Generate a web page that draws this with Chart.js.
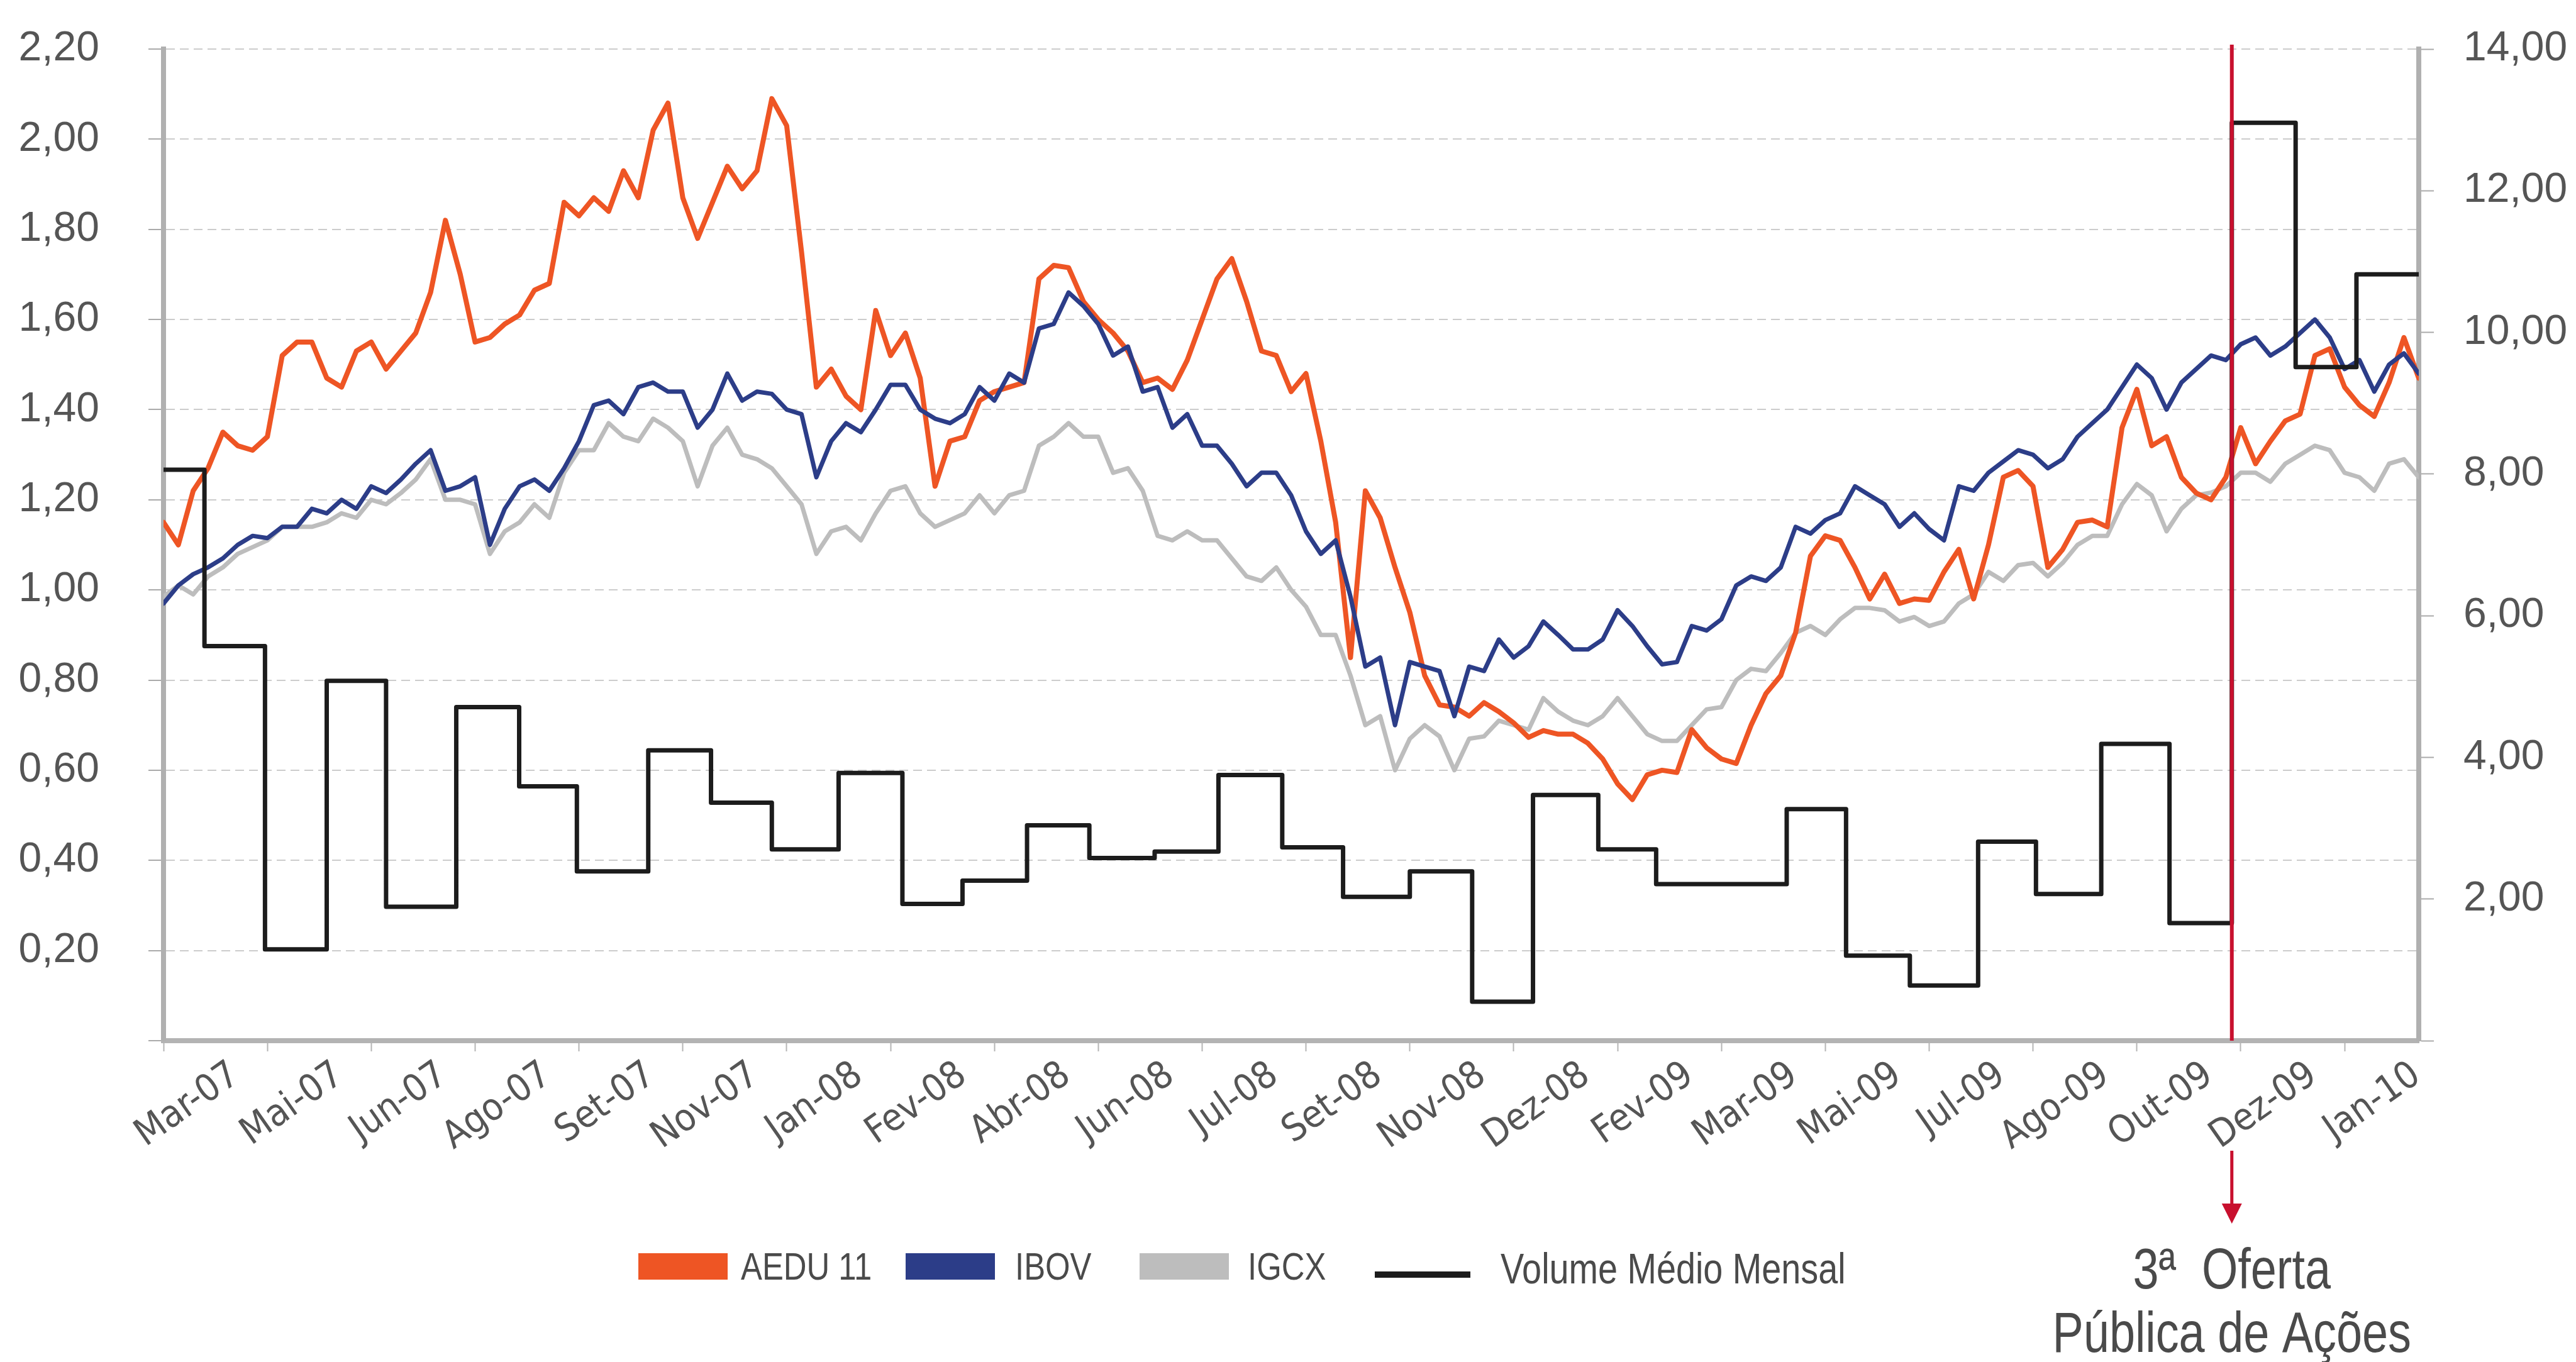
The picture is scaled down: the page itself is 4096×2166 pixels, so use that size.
<!DOCTYPE html>
<html>
<head>
<meta charset="utf-8">
<script src="https://cdn.jsdelivr.net/npm/chart.js@4.4.0/dist/chart.umd.min.js"></script>
<style>
  html, body { margin: 0; padding: 0; background: #fff; }
  canvas { display: block; }
</style>
</head>
<body>
<canvas id="grafico" width="4096" height="2166"></canvas>
<script>
// rótulos do eixo x, um a cada 7 semanas
const rotulosX = ['Mar-07', 'Mai-07', 'Jun-07', 'Ago-07', 'Set-07', 'Nov-07', 'Jan-08', 'Fev-08',
    'Abr-08', 'Jun-08', 'Jul-08', 'Set-08', 'Nov-08', 'Dez-08', 'Fev-09', 'Mar-09', 'Mai-09',
    'Jul-09', 'Ago-09', 'Out-09', 'Dez-09', 'Jan-10'];
const passoRotulo = 7;
const semanaFinal = 152;

// cotações semanais (eixo esquerdo)
const aedu = [
    1.15, 1.10, 1.22, 1.27, 1.35, 1.32, 1.31, 1.34, 1.52, 1.55,
    1.55, 1.47, 1.45, 1.53, 1.55, 1.49, 1.53, 1.57, 1.66, 1.82,
    1.70, 1.55, 1.56, 1.59, 1.61, 1.665, 1.68, 1.86, 1.83, 1.87,
    1.84, 1.93, 1.87, 2.02, 2.08, 1.87, 1.78, 1.86, 1.94, 1.89,
    1.93, 2.09, 2.03, 1.75, 1.45, 1.49, 1.43, 1.40, 1.62, 1.52,
    1.57, 1.47, 1.23, 1.33, 1.34, 1.42, 1.44, 1.45, 1.46, 1.69,
    1.72, 1.715, 1.64, 1.60, 1.57, 1.53, 1.46, 1.47, 1.445, 1.51,
    1.60, 1.69, 1.735, 1.64, 1.53, 1.52, 1.44, 1.48, 1.33, 1.15,
    0.85, 1.22, 1.16, 1.05, 0.95, 0.81, 0.745, 0.74, 0.72, 0.75,
    0.73, 0.705, 0.673, 0.688, 0.68, 0.68, 0.66, 0.625, 0.57, 0.535,
    0.59, 0.60, 0.595, 0.69, 0.65, 0.625, 0.615, 0.70, 0.77, 0.81,
    0.905, 1.075, 1.12, 1.11, 1.05, 0.98, 1.035, 0.97, 0.98, 0.977,
    1.04, 1.09, 0.98, 1.10, 1.25, 1.265, 1.23, 1.05, 1.09, 1.15,
    1.155, 1.14, 1.36, 1.445, 1.32, 1.34, 1.25, 1.215, 1.20, 1.25,
    1.36, 1.28, 1.33, 1.375, 1.39, 1.52, 1.535, 1.45, 1.41, 1.385,
    1.46, 1.56, 1.47
];
const ibov = [
    0.97, 1.01, 1.035, 1.05, 1.07, 1.10, 1.12, 1.115, 1.14, 1.14,
    1.18, 1.17, 1.20, 1.18, 1.23, 1.215, 1.245, 1.28, 1.31, 1.22,
    1.23, 1.25, 1.10, 1.18, 1.23, 1.245, 1.22, 1.27, 1.33, 1.41,
    1.42, 1.39, 1.45, 1.46, 1.44, 1.44, 1.36, 1.40, 1.48, 1.42,
    1.44, 1.435, 1.40, 1.39, 1.25, 1.33, 1.37, 1.35, 1.40, 1.455,
    1.455, 1.40, 1.38, 1.37, 1.39, 1.45, 1.42, 1.48, 1.46, 1.58,
    1.59, 1.66, 1.63, 1.59, 1.52, 1.54, 1.44, 1.45, 1.36, 1.39,
    1.32, 1.32, 1.28, 1.23, 1.26, 1.26, 1.21, 1.13, 1.08, 1.11,
    0.985, 0.83, 0.85, 0.70, 0.84, 0.83, 0.82, 0.72, 0.83, 0.82,
    0.89, 0.85, 0.875, 0.93, 0.90, 0.868, 0.868, 0.89, 0.955, 0.92,
    0.875, 0.835, 0.84, 0.92, 0.91, 0.935, 1.01, 1.03, 1.02, 1.05,
    1.14, 1.125, 1.155, 1.17, 1.23, 1.21, 1.19, 1.14, 1.17, 1.135,
    1.11, 1.23, 1.22, 1.26, 1.285, 1.31, 1.30, 1.27, 1.29, 1.34,
    1.37, 1.40, 1.45, 1.50, 1.47, 1.40, 1.46, 1.49, 1.52, 1.51,
    1.545, 1.56, 1.52, 1.54, 1.57, 1.60, 1.56, 1.49, 1.51, 1.44,
    1.50, 1.525, 1.48
];
const igcx = [
    0.985, 1.01, 0.99, 1.03, 1.05, 1.08, 1.095, 1.11, 1.14, 1.14,
    1.14, 1.15, 1.17, 1.16, 1.20, 1.19, 1.215, 1.245, 1.29, 1.20,
    1.20, 1.19, 1.08, 1.13, 1.15, 1.19, 1.16, 1.26, 1.31, 1.31,
    1.37, 1.34, 1.33, 1.38, 1.36, 1.33, 1.23, 1.32, 1.36, 1.30,
    1.29, 1.27, 1.23, 1.19, 1.08, 1.13, 1.14, 1.11, 1.17, 1.22,
    1.23, 1.17, 1.14, 1.155, 1.17, 1.21, 1.17, 1.21, 1.22, 1.32,
    1.34, 1.37, 1.34, 1.34, 1.26, 1.27, 1.22, 1.12, 1.11, 1.13,
    1.11, 1.11, 1.07, 1.03, 1.02, 1.05, 1.00, 0.963, 0.90, 0.90,
    0.81, 0.70, 0.72, 0.60, 0.67, 0.70, 0.675, 0.60, 0.67, 0.675,
    0.71, 0.70, 0.69, 0.76, 0.73, 0.71, 0.70, 0.72, 0.76, 0.72,
    0.68, 0.665, 0.665, 0.70, 0.735, 0.74, 0.80, 0.825, 0.82, 0.86,
    0.905, 0.92, 0.90, 0.935, 0.96, 0.96, 0.955, 0.93, 0.94, 0.92,
    0.93, 0.97, 0.99, 1.04, 1.02, 1.055, 1.06, 1.03, 1.06, 1.10,
    1.12, 1.12, 1.19, 1.235, 1.21, 1.13, 1.18, 1.21, 1.216, 1.23,
    1.26, 1.26, 1.24, 1.28, 1.30, 1.32, 1.31, 1.26, 1.25, 1.22,
    1.28, 1.29, 1.25
];

// volume médio mensal (eixo direito): semana em que começa cada mês e o valor
const volumeInicio = [0, 2.76, 6.84, 11.0, 15.0, 19.73, 23.97, 27.86, 32.67, 36.9, 41.0, 45.5,
    49.8, 53.85, 58.2, 62.4, 66.8, 71.1, 75.4, 79.5, 84.0, 88.2, 92.3, 96.7, 100.6, 109.4,
    113.4, 117.7, 122.3, 126.2, 130.6, 135.2, 139.4, 143.7, 147.8];
const volumeValor = [8.06, 5.57, 1.29, 5.08, 1.89, 4.71, 3.59, 2.39, 4.10, 3.36, 2.70, 3.78,
    1.93, 2.26, 3.04, 2.58, 2.67, 3.75, 2.73, 2.03, 2.39, 0.55, 3.47, 2.70, 2.21, 3.27,
    1.20, 0.78, 2.81, 2.07, 4.19, 1.66, 12.96, 9.51, 10.82];

// semana da 3ª oferta pública
const semanaOferta = 139.4;

const fonteNormal = "'Liberation Sans', Arial, sans-serif";
const fonteEstreita = "'Liberation Sans Narrow', 'Arial Narrow', 'DejaVu Sans Condensed', sans-serif";
const corTexto = '#555555';
const aperto = 0.82; // texto "narrow" feito a mão

const semanal = (valores) => valores.map((v, i) => ({ x: i, y: v }));
const volumePontos = volumeInicio.map((s, i) => ({ x: s, y: volumeValor[i] }));
volumePontos.push({ x: semanaFinal, y: volumeValor[volumeValor.length - 1] });

const formatoBR = (v) => (v === 0 ? '' : v.toFixed(2).replace('.', ','));

// eixo y com largura fixa e sem folga extra em cima/embaixo
const ajustaEixoY = (largura) => (escala) => {
    escala.width = largura;
    escala.paddingTop = 0;
    escala.paddingBottom = 0;
};

function textoEstreito(ctx, texto, x, y, tamanho) {
    ctx.save();
    ctx.translate(x, y);
    ctx.scale(aperto, 1);
    ctx.font = tamanho + 'px ' + fonteNormal;
    ctx.fillText(texto, 0, 0);
    ctx.restore();
}

// seta vermelha, texto da oferta e legenda
const sobreposicao = {
    id: 'sobreposicao',
    afterDraw(chart) {
        const { ctx, chartArea, scales } = chart;
        const x = scales.x.getPixelForValue(semanaOferta);
        ctx.save();
        ctx.strokeStyle = '#c8102e';
        ctx.fillStyle = '#c8102e';
        ctx.lineWidth = 6;
        ctx.beginPath();
        ctx.moveTo(x, chartArea.top - 7);
        ctx.lineTo(x, chartArea.bottom);
        ctx.stroke();

        ctx.lineWidth = 5;
        ctx.beginPath();
        ctx.moveTo(x, 1830);
        ctx.lineTo(x, 1918);
        ctx.stroke();
        ctx.beginPath();
        ctx.moveTo(x - 16, 1914);
        ctx.lineTo(x + 16, 1914);
        ctx.lineTo(x, 1946);
        ctx.closePath();
        ctx.fill();

        ctx.fillStyle = '#4a4a4a';
        ctx.textAlign = 'center';
        ctx.textBaseline = 'alphabetic';
        textoEstreito(ctx, '3ª  Oferta', x, 2049, 90);
        textoEstreito(ctx, 'Pública de Ações', x, 2150, 90);

        // legenda
        const porNome = {};
        chart.data.datasets.forEach(d => { porNome[d.label] = d; });
        const caixas = [
            { nome: 'AEDU 11', caixaX: 1015, textoX: 1178 },
            { nome: 'IBOV', caixaX: 1440, textoX: 1614 },
            { nome: 'IGCX', caixaX: 1812, textoX: 1984 }
        ];
        ctx.textAlign = 'left';
        caixas.forEach(c => {
            ctx.fillStyle = porNome[c.nome].borderColor;
            ctx.fillRect(c.caixaX, 1993, 142, 42);
            ctx.fillStyle = '#4a4a4a';
            textoEstreito(ctx, c.nome, c.textoX, 2035, 62);
        });
        const vol = porNome['Volume Médio Mensal'];
        ctx.strokeStyle = vol.borderColor;
        ctx.lineWidth = 10;
        ctx.beginPath();
        ctx.moveTo(2186, 2027);
        ctx.lineTo(2338, 2027);
        ctx.stroke();
        ctx.fillStyle = '#4a4a4a';
        textoEstreito(ctx, vol.label, 2386, 2041, 68);
        ctx.restore();
    }
};

new Chart(document.getElementById('grafico'), {
    type: 'line',
    data: {
        datasets: [
            {
                label: 'Volume Médio Mensal',
                data: volumePontos,
                yAxisID: 'y2',
                borderColor: '#1c1c1c',
                borderWidth: 7,
                stepped: true,
                order: 0
            },
            {
                label: 'IBOV',
                data: semanal(ibov),
                yAxisID: 'y',
                borderColor: '#2c3d88',
                borderWidth: 7,
                order: 1
            },
            {
                label: 'AEDU 11',
                data: semanal(aedu),
                yAxisID: 'y',
                borderColor: '#ee5524',
                borderWidth: 8,
                order: 2
            },
            {
                label: 'IGCX',
                data: semanal(igcx),
                yAxisID: 'y',
                borderColor: '#bdbdbd',
                borderWidth: 7,
                order: 3
            }
        ]
    },
    options: {
        responsive: false,
        animation: false,
        devicePixelRatio: 1,
        layout: { padding: { top: 78, left: 0, right: 0, bottom: 0 } },
        elements: {
            point: { radius: 0 },
            line: { tension: 0, borderJoinStyle: 'round', borderCapStyle: 'round' }
        },
        plugins: {
            legend: { display: false },
            tooltip: { enabled: false }
        },
        scales: {
            x: {
                type: 'linear',
                min: 0,
                max: semanaFinal,
                afterBuildTicks: (escala) => {
                    escala.ticks = rotulosX.map((_, k) => ({ value: k * passoRotulo }));
                },
                afterFit: (escala) => { escala.height = 511; },
                grid: { drawOnChartArea: false, drawTicks: true, tickLength: 17, tickColor: '#b5b5b5', tickWidth: 2 },
                border: { color: '#b3b3b3', width: 8 },
                ticks: {
                    autoSkip: false,
                    minRotation: 35,
                    maxRotation: 35,
                    labelOffset: 115,
                    padding: 3,
                    color: corTexto,
                    font: { family: fonteEstreita, size: 60 },
                    callback: (v) => rotulosX[Math.round(v / passoRotulo)] ?? ''
                }
            },
            y: {
                position: 'left',
                min: 0,
                max: 2.2,
                afterFit: ajustaEixoY(260),
                grid: { color: '#cccccc', lineWidth: 2, tickLength: 24, tickColor: '#aaaaaa', tickWidth: 2 },
                border: { color: '#b0b0b0', width: 8, dash: [14, 8] },
                ticks: {
                    stepSize: 0.2,
                    padding: 78,
                    color: corTexto,
                    font: { family: fonteNormal, size: 66 },
                    callback: formatoBR
                }
            },
            y2: {
                position: 'right',
                min: 0,
                max: 14,
                afterFit: ajustaEixoY(250),
                grid: { drawOnChartArea: false, tickLength: 24, tickColor: '#aaaaaa', tickWidth: 2 },
                border: { color: '#b0b0b0', width: 8 },
                ticks: {
                    stepSize: 2,
                    padding: 47,
                    color: corTexto,
                    font: { family: fonteNormal, size: 66 },
                    callback: formatoBR
                }
            }
        }
    },
    plugins: [sobreposicao]
});
</script>
</body>
</html>
